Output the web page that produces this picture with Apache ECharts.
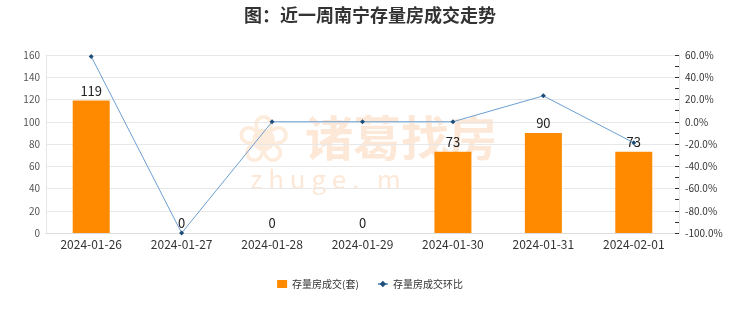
<!DOCTYPE html>
<html><head><meta charset="utf-8">
<script src="https://cdn.jsdelivr.net/npm/echarts@6/dist/echarts.min.js"></script>
<style>html,body{margin:0;padding:0;background:#fff}#c{width:740px;height:312px}</style>
</head><body><div id="c"></div>
<script>
const categories = ['2024-01-26','2024-01-27','2024-01-28','2024-01-29','2024-01-30','2024-01-31','2024-02-01'];
const volume = [119, 0, 0, 0, 73, 90, 73];
const ratio = [58.7, -100, 0, 0, 0, 23.3, -18.9];
const leftTicks = [0, 160, 20];
const rightTicks = [-100, 60, 20];
const chart = echarts.init(document.getElementById('c'));
const font = '"Noto Sans CJK SC", "Noto Sans", sans-serif';
chart.setOption({
  animation: false,
  textStyle: {fontFamily: font},
  title: {text: '图：近一周南宁存量房成交走势', left: 'center', top: 1,
    textStyle: {fontSize: 18, fontWeight: 'bold', color: '#333', fontFamily: font}},
  legend: {bottom: 18, itemWidth: 10, itemHeight: 8, itemGap: 18,
    textStyle: {fontSize: 10, color: '#333'},
    data: [{name: '存量房成交(套)', icon: 'rect'}, {name: '存量房成交环比'}]},
  grid: {left: 46, right: 61, top: 55, bottom: 79},
  graphic: [
    {type: 'text', left: 305, top: 114, z: 0, style: {text: '诸葛找房', fontSize: 48, fontWeight: 'bold', fill: 'rgba(248,190,140,0.35)', fontFamily: font}},
    {type: 'text', left: 250, top: 166, z: 0, style: {text: 'z h u g e .   m', fontSize: 26, fill: 'rgba(248,190,140,0.35)', fontFamily: font}},
    {type: 'text', left: 236, top: 112, z: 0, style: {text: '❀', fontSize: 66, fill: 'rgba(248,190,140,0.3)', fontFamily: 'DejaVu Sans'}}
  ],
  xAxis: {type: 'category', data: categories,
    axisLine: {lineStyle: {color: '#ddd'}}, axisTick: {show: false},
    axisLabel: {fontSize: 12, color: '#333', margin: 5}},
  yAxis: [
    {type: 'value', min: leftTicks[0], max: leftTicks[1], interval: leftTicks[2],
      axisLine: {show: true, lineStyle: {color: '#e6e6e6'}}, axisTick: {show: false},
      axisLabel: {fontSize: 10, color: '#555', margin: 6},
      splitLine: {lineStyle: {color: '#e8e8e8'}}},
    {type: 'value', min: rightTicks[0], max: rightTicks[1], interval: rightTicks[2],
      axisLine: {show: true, lineStyle: {color: '#e6e6e6'}},
      axisTick: {show: true, inside: true, length: 4, lineStyle: {color: '#333'}},
      minorTick: {show: true, splitNumber: 2, length: 4, lineStyle: {color: '#333'}},
      axisLabel: {fontSize: 10, color: '#333', margin: 6, formatter: v => v.toFixed(1) + '%'},
      splitLine: {show: false}}
  ],
  series: [
    {name: '存量房成交(套)', type: 'bar', data: volume, barWidth: 37,
      itemStyle: {color: '#FF8A00'},
      label: {show: true, position: 'top', fontSize: 13, color: '#222', distance: 3}},
    {name: '存量房成交环比', type: 'line', yAxisIndex: 1, data: ratio,
      lineStyle: {color: '#6C9FD2', width: 1}, symbol: 'diamond', symbolSize: 5,
      itemStyle: {color: '#1F4E79'}}
  ]
});
</script></body></html>
